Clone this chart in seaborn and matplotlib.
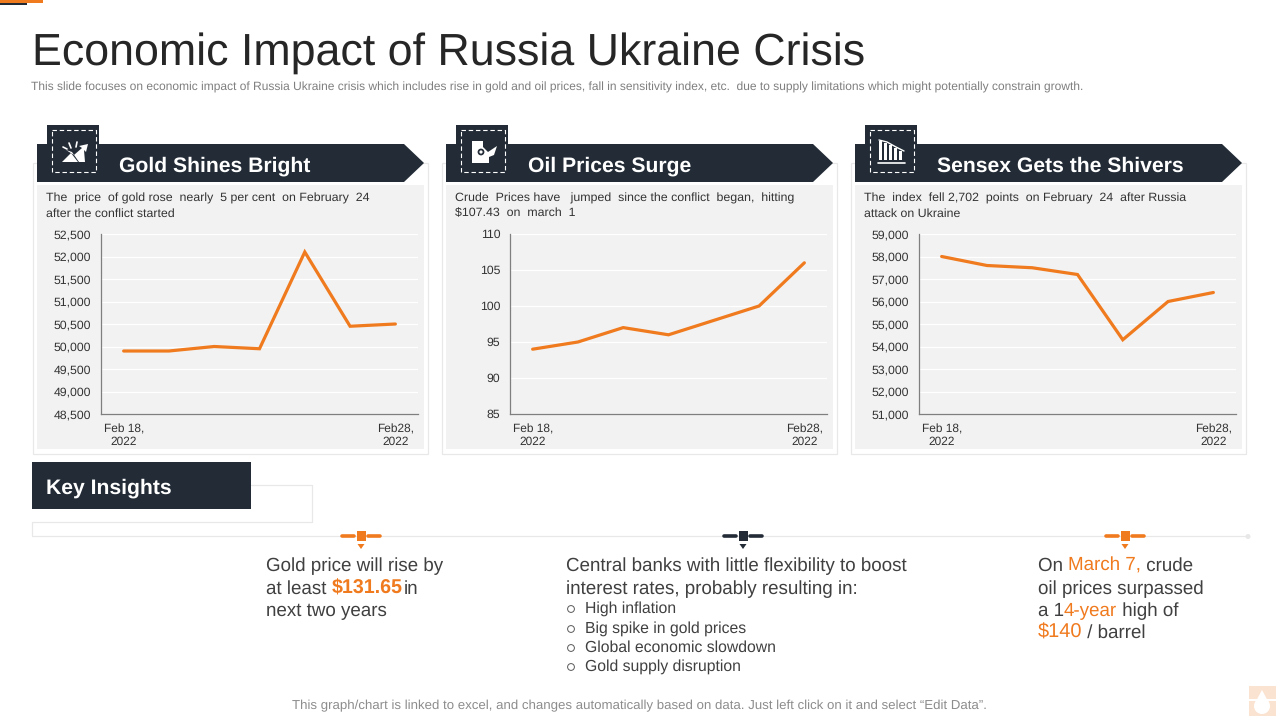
import matplotlib
matplotlib.use("Agg")
import matplotlib.pyplot as plt
from matplotlib.patches import Polygon, Rectangle, Circle
from matplotlib.ticker import FuncFormatter
import seaborn as sns
import pandas as pd

sns.set_theme(style="white")
plt.rcParams['font.family'] = ['Liberation Sans', 'DejaVu Sans']
plt.rcParams['text.hinting'] = 'no_hinting'

# ---------- data ----------
days = ["d1", "d2", "d3", "d4", "d5", "d6", "d7"]
gold_values = [49900, 49900, 50000, 49950, 52100, 50450, 50500]
oil_values = [94, 95, 97, 96, 98, 100, 106]
sensex_values = [58000, 57600, 57500, 57200, 54300, 56000, 56400]
gold_ticks = [48500, 49000, 49500, 50000, 50500, 51000, 51500, 52000, 52500]
oil_ticks = [85, 90, 95, 100, 105, 110]
sensex_ticks = [51000, 52000, 53000, 54000, 55000, 56000, 57000, 58000, 59000]
first_label = "Feb 18,\n2022"
last_label = "Feb28,\n2022"
headers = ["Gold Shines Bright", "Oil Prices Surge", "Sensex Gets the Shivers"]
blurbs = [
    "The  price  of gold rose  nearly  5 per cent  on February  24\nafter the conflict started",
    "Crude  Prices have   jumped  since the conflict  began,  hitting\n$107.43  on  march  1",
    "The  index  fell 2,702  points  on February  24  after Russia\nattack on Ukraine",
]

NAVY = "#222B36"
ORANGE = "#F07A1E"
TXT = "#404040"
EDGE = "#E8E8E8"
W, H = 1280, 720

fig = plt.figure(figsize=(12.8, 7.2), dpi=100, facecolor="white")
bg = fig.add_axes([0, 0, 1, 1], zorder=0)
bg.set_xlim(0, W); bg.set_ylim(H, 0); bg.axis("off")


def rich(x, y, parts, size):
    """Draw coloured text runs one after another on a baseline."""
    r = fig.canvas.get_renderer()
    for part in parts:
        s, c, w = part[:3]
        sz = part[3] if len(part) > 3 else size
        t = bg.text(x, y, s, color=c, fontsize=sz, fontweight=w, va="baseline", ha="left")
        x += t.get_window_extent(r).width
    return x


# top accents
bg.add_patch(Rectangle((0, 0), 43, 2.5, color=ORANGE, lw=0))
bg.add_patch(Rectangle((0, 3), 27, 2, color=NAVY, lw=0))

# title
bg.text(32, 65, "Economic Impact of Russia Ukraine Crisis", fontsize=32.25, color="#262626", va="baseline")
bg.text(31, 91, "This slide focuses on economic impact of Russia Ukraine crisis which includes rise in gold and oil prices, "
                "fall in sensitivity index, etc.  due to supply limitations which might potentially constrain growth.",
        fontsize=8.61, color="#7F7F7F", va="baseline")


def draw_icon(i, ox):
    c = "white"
    if i == 0:
        bg.add_patch(Polygon([(62+ox, 162), (71+ox, 153), (78+ox, 162)], color=c, lw=0))
        bg.add_patch(Polygon([(66+ox, 150), (74+ox, 155), (82+ox, 148), (79+ox, 146), (88+ox, 144),
                              (86+ox, 152), (84+ox, 150), (85+ox, 162), (79+ox, 162), (72+ox, 152)], color=c, lw=0))
        for a, b, d, e in [(69, 143, 71, 148), (77, 142, 76, 147), (63, 147, 67, 149)]:
            bg.plot([a+ox, d+ox], [b, e], color=c, lw=1.2)
    elif i == 1:
        bg.add_patch(Polygon([(472, 141), (483, 141), (483, 147), (488, 152), (497, 146), (494, 155),
                              (489, 157), (489, 163), (472, 163)], color=c, lw=0))
        bg.add_patch(Circle((481, 152), 3.4, fc=NAVY, ec="none"))
        bg.add_patch(Circle((481, 152), 1.6, fc="white", ec="none"))
    else:
        for k, bar_top in enumerate([141, 143, 145, 148, 151]):
            bg.add_patch(Rectangle((879+k*5, bar_top), 2.6, 160-bar_top, color=c, lw=0))
        bg.plot([878, 905], [162.5, 162.5], color=c, lw=1.2)
        bg.plot([879, 887, 896, 904], [140, 142, 147, 151], color=c, lw=1)


tick_sets = [gold_ticks, oil_ticks, sensex_ticks]
series = [gold_values, oil_values, sensex_values]
for i, (vals, ticks) in enumerate(zip(series, tick_sets)):
    ox = 409 * i
    # outline, grey panel
    bg.add_patch(Rectangle((33+ox, 163), 395, 291, fc="white", ec=EDGE, lw=0.9))
    bg.add_patch(Rectangle((37+ox, 185), 387, 264, fc="#F2F2F2", ec="none"))
    # ribbon and icon tab
    bg.add_patch(Polygon([(37+ox, 144), (404+ox, 144), (424+ox, 163), (404+ox, 182), (37+ox, 182)], fc=NAVY, ec="none"))
    bg.add_patch(Rectangle((47+ox, 125), 52, 50, fc=NAVY, ec="none"))
    bg.add_patch(Rectangle((52+ox, 130), 44, 42, fc="none", ec="white", lw=0.8, ls=(0, (4, 2.5))))
    draw_icon(i, ox)
    bg.text(119+ox, 172, headers[i], color="white", fontsize=15.2, fontweight="bold", va="baseline")
    bg.text(46+ox, 192.5, blurbs[i], color="#333333", fontsize=8.95, va="top", linespacing=1.48)

    # chart
    left, right, top, bottom = 101+ox, 418+ox, 234, 414
    ax = fig.add_axes([left/W, 1-bottom/H, (right-left)/W, (bottom-top)/H], zorder=2)
    ax.patch.set_alpha(0)
    df = pd.DataFrame({"day": days, "value": vals})
    sns.lineplot(data=df, x="day", y="value", ax=ax, color=ORANGE, lw=2.3, sort=False, errorbar=None,
                 solid_joinstyle="miter")
    ax.set_xlim(-0.5, 6.5)
    ax.set_ylim(ticks[0], ticks[-1])
    ax.set_yticks(ticks)
    ax.yaxis.set_major_formatter(FuncFormatter(lambda v, _: f"{int(v):,}"))
    ax.set_xticks([0, 6])
    ax.set_xticklabels([first_label, last_label])
    ax.set_xlabel(""); ax.set_ylabel("")
    ax.tick_params(axis="both", length=0, labelsize=8.85, labelcolor="#333333")
    ax.tick_params(axis="y", pad=7)
    ax.tick_params(axis="x", pad=7, labelsize=8.6)
    ax.grid(axis="y", color="white", lw=0.9)
    ax.grid(axis="x", visible=False)
    for s in ["top", "right"]:
        ax.spines[s].set_visible(False)
    for s in ["left", "bottom"]:
        ax.spines[s].set_visible(True)
        ax.spines[s].set_color("#7F7F7F")
        ax.spines[s].set_linewidth(0.9)
    for lab in ax.get_xticklabels():
        lab.set_linespacing(1.15)

# key insights
bg.plot([251, 312, 312, 32, 32, 1248], [485, 485, 522, 522, 536, 536], color=EDGE, lw=0.9)
bg.add_patch(Circle((1248, 536.5), 2.5, fc=EDGE, ec="none"))
bg.add_patch(Rectangle((32, 462), 219, 47, fc=NAVY, ec="none", zorder=3))
bg.text(46, 494, "Key Insights", color="white", fontsize=15.2, fontweight="bold", va="baseline", zorder=4)

for cx, col in [(361, ORANGE), (743, NAVY), (1125, ORANGE)]:
    bg.plot([cx-19, cx-7], [535.5, 535.5], color=col, lw=2.6, solid_capstyle="round")
    bg.plot([cx+7, cx+19], [535.5, 535.5], color=col, lw=2.6, solid_capstyle="round")
    bg.add_patch(Rectangle((cx-4.5, 531), 9, 10, fc=col, ec="none", zorder=3))
    bg.add_patch(Polygon([(cx-3.5, 544), (cx+3.5, 544), (cx, 549)], fc=col, ec="none"))

S = 13.48
rich(266, 571, [("Gold price will rise by", TXT, "normal")], S)
x = rich(266, 594, [("at least ", TXT, "normal"), ("$131.65", ORANGE, "bold", 14.1)], S)
bg.text(x+1.5, 594, "in", color=TXT, fontsize=S, va="baseline")
rich(266, 616, [("next two years", TXT, "normal")], S)

rich(566, 571, [("Central banks with little flexibility to boost", TXT, "normal")], S)
rich(566, 594, [("interest rates, probably resulting in:", TXT, "normal")], S)
for y, s in zip([613, 633, 652, 671], ["High inflation", "Big spike in gold prices", "Global economic slowdown", "Gold supply disruption"]):
    bg.text(585, y, s, color=TXT, fontsize=11.3, va="baseline")
    bg.add_patch(Circle((571, y-4), 3.4, fc="none", ec="#595959", lw=0.7))

rich(1038, 571, [("On ", TXT, "normal"), ("March 7,", ORANGE, "normal"), (" crude", TXT, "normal")], S)
rich(1038, 594, [("oil prices surpassed", TXT, "normal")], S)
rich(1038, 616, [("a 1", TXT, "normal"), ("4-year", ORANGE, "normal"), (" high of", TXT, "normal")], S)
rich(1038, 638, [("$140", ORANGE, "normal", 14.4), (" / barrel", TXT, "normal")], S)

bg.text(639.5, 709, "This graph/chart is linked to excel, and changes automatically based on data. Just left click on it and select \u201cEdit Data\u201d.",
        fontsize=9.53, color="#8C8C8C", ha="center", va="baseline")

# corner logo
bg.add_patch(Rectangle((1249, 686), 27, 30, fc="#FBE3D2", ec="none"))
bg.add_patch(Rectangle((1249, 699), 27, 2, fc="white", ec="none"))
bg.add_patch(Circle((1262, 706), 8, fc="white", ec="none"))
bg.add_patch(Polygon([(1262, 690), (1255, 703), (1269, 703)], fc="white", ec="none"))

fig.savefig("out.png", dpi=100)
